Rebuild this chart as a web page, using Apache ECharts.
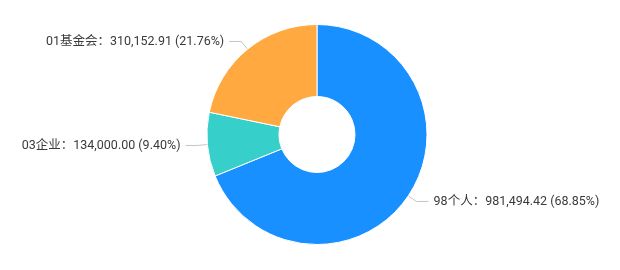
<!DOCTYPE html>
<html>
<head>
<meta charset="utf-8">
<script src="https://cdn.jsdelivr.net/npm/echarts@6/dist/echarts.min.js"></script>
<style>
html,body{margin:0;padding:0;background:#fff;}
#main{width:620px;height:270px;}
</style>
</head>
<body>
<div id="main"></div>
<script>
const categories = ['98个人', '03企业', '01基金会'];
const values = [981494.42, 134000.00, 310152.91];
const colors = ['#1890FF', '#36CFC9', '#FFA940'];

const chart = echarts.init(document.getElementById('main'));
const total = values.reduce((a, b) => a + b, 0);
const fmt = v => v.toLocaleString('en-US', {minimumFractionDigits: 2, maximumFractionDigits: 2});

chart.setOption({
  animation: false,
  color: colors,
  series: [{
    type: 'pie',
    center: [317, 134.5],
    radius: [38, 110],
    startAngle: 90,
    clockwise: true,
    itemStyle: {borderColor: '#fff', borderWidth: 1},
    label: {
      show: true,
      position: 'outside',
      color: '#3a3a3a',
      fontSize: 12.5,
      fontFamily: 'Roboto, "Noto Sans CJK SC", sans-serif',
      formatter: p => p.name + '：' + fmt(p.value) + ' (' + (p.value / total * 100).toFixed(2) + '%)'
    },
    labelLine: {
      show: true,
      length: 10,
      length2: 12,
      lineStyle: {color: '#c4c4c4', width: 1}
    },
    data: categories.map((c, i) => ({name: c, value: values[i]}))
  }]
});
</script>
</body>
</html>
